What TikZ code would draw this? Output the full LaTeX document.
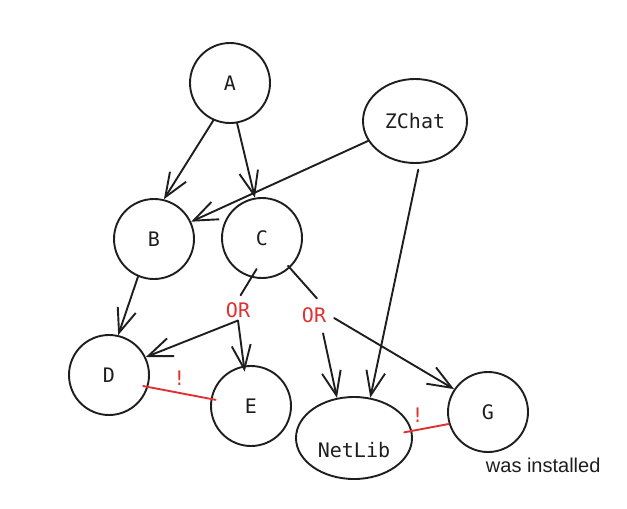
\documentclass[tikz,border=0pt]{standalone}
\usepackage{fontspec}
\setmainfont{Liberation Sans}
\setmonofont{DejaVu Sans Mono}
\usepackage{xcolor}
\usetikzlibrary{shapes.geometric, arrows.meta}
\definecolor{ink}{HTML}{1E1E1E}
\definecolor{alert}{HTML}{E03131}

\begin{document}
\begin{tikzpicture}[x=1pt, y=-1pt, line width=1.9pt, color=ink,
    pkg/.style={circle, draw, minimum size=80pt, inner sep=0pt, font=\fontsize{20}{24}\selectfont\ttfamily},
    pkgwide/.style={ellipse, draw, inner sep=0pt, font=\fontsize{20}{24}\selectfont\ttfamily},
    dep/.style={-{Straight Barb[length=24pt, width=19pt]}, line cap=round},
    gate/.style={text=alert, inner sep=2pt, font=\fontsize{20}{24}\selectfont\ttfamily},
    clash/.style={draw=alert, line cap=round},
    flag/.style={text=alert, inner sep=0pt, font=\fontsize{20}{24}\selectfont\ttfamily}]

    \useasboundingbox (0,0) rectangle (627,509);

    % --- Packages ---
    \node[pkg] (A) at (230,83) {A};
    \node[pkgwide, minimum width=104pt, minimum height=84pt] (ZChat) at (415,121) {ZChat};
    \node[pkg] (B) at (154,239) {B};
    \node[pkg] (C) at (262,238) {C};
    \node[pkg] (D) at (109,375) {D};
    \node[pkg] (E) at (251,406) {E};
    % text pushed down inside the ellipse
    \node[pkgwide, minimum width=116pt, minimum height=82pt, text height=38pt, text depth=0pt] (NetLib) at (354,438) {NetLib};
    \node[pkg] (G) at (488,412) {G};

    % --- Alternatives ---
    \node[gate] (or1) at (238,310) {OR};
    \node[gate] (or2) at (314,315) {OR};

    % --- Legend text ---
    \node[anchor=base west, inner sep=0pt, font=\fontsize{20}{24}\selectfont] (note) at (485,472) {was installed};

    % --- From A ---
    \draw[dep] (A.246) -- (B.76);
    \draw[dep] (A.280) -- (C.100);

    % --- From ZChat ---
    \draw[dep] (ZChat.203) -- (B.25);
    \draw[dep, shorten <=6pt] (ZChat.276) -- (NetLib.68);

    % --- From B ---
    \draw[dep] (B.247) -- (D.77);

    % --- C through the first OR ---
    \draw[line cap=round, shorten <=-10pt, shorten >=5pt] (C.255) -- (or1.north);
    \draw[dep] (or1.south) -- (D.26);
    \draw[dep, shorten >=-6pt] (or1.south) -- (E.100);

    % --- C through the second OR ---
    \draw[line cap=round, shorten <=-3pt] (C.313) -- ([xshift=3pt, yshift=6pt]or2.north);
    \draw[dep, shorten <=8pt] (or2.-55) -- (NetLib.113);
    \draw[dep, shorten <=6pt] (or2.east) -- (G.146);

    % --- Conflicts (red) ---
    \draw[clash, shorten <=-5pt, shorten >=-5pt] (D.343) -- node[flag, midway, above=6pt] {!} (E.170);
    \draw[clash, shorten <=-8pt] (NetLib.7) -- node[flag, pos=0.15, above=6pt] {!} (G.197);

\end{tikzpicture}
\end{document}
